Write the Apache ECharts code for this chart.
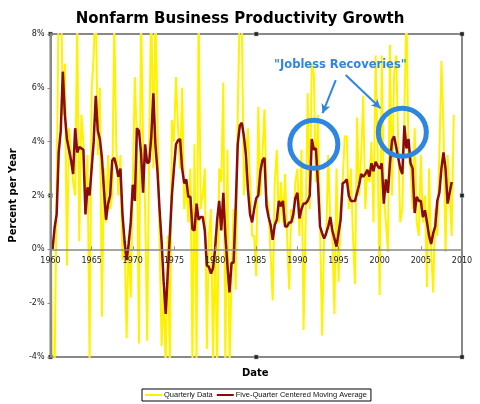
<!DOCTYPE html>
<html>
<head>
<meta charset="utf-8">
<script src="https://cdn.jsdelivr.net/npm/echarts@6/dist/echarts.min.js"></script>
<style>
  html, body { margin: 0; padding: 0; background: #fff; }
  #chart { width: 480px; height: 404px; }
</style>
</head>
<body>
<div id="chart"></div>
<script>
  // quarterly data starts 1960 Q1, moving average starts 1960 Q2
  let startYear = 1960;
  let quarterly = [
    2.5, -5.0, -4.5, 2.0,
    9.5, 10.5, 5.0, 6.9,
    -0.6, 4.5, 3.5, 2.5,
    2.0, 8.5, 0.3, 5.0,
    4.0, 1.5, 3.5, -4.2,
    5.9, 7.2, 9.5, 3.5,
    6.0, -2.5, 3.0, 1.0,
    3.5, 1.5, 2.0, 8.5,
    3.8, 2.0, 3.5, -0.4,
    0.5, -3.3, 0.5, -1.8,
    2.5, 6.4, 4.0, -3.5,
    9.0, 4.0, 1.5, -3.4,
    4.0, 9.5, 3.0, 9.0,
    5.0, 0.5, -3.6, -1.5,
    -4.5, 0.5, -4.5, 4.8,
    4.0, 6.4, 4.5, 3.0,
    6.0, 1.5, 2.5, 1.0,
    3.0, -4.2, 3.9, -4.2,
    9.0, 1.5, 2.0, 3.0,
    -3.7, 0.5, 1.5, -4.2,
    0.5, -4.5, 3.0, 2.5,
    6.2, -4.5, 3.7, -4.5,
    -1.0, 1.5, -1.5, 5.0,
    9.0, 8.5, 2.0, 3.5,
    4.5, 2.5, 0.5, 0.5,
    -1.0, 5.3, 2.0, 3.5,
    5.2, 2.0, 1.5, -0.2,
    -1.9, 2.5, 3.7, 1.0,
    2.5, 1.0, 2.8, 0.5,
    -1.5, 1.5, 1.0, 2.5,
    3.0, 0.5, 3.7, -3.0,
    1.0, 5.8, 1.5, 6.9,
    6.5, 2.5, 5.0, 1.0,
    -3.2, 0.5, 0.5, 3.5,
    1.0, 0.5, -2.4, 3.0,
    -1.2, 1.5, 2.5, 4.2,
    4.2, 1.5, 3.0, 0.5,
    -1.3, 4.9, 2.0, 3.5,
    5.7, 1.5, 3.0, 2.5,
    4.0, 1.0, 7.2, 3.5,
    -1.7, 7.2, 2.0, 1.0,
    -0.1, 7.6, 2.0, 6.5,
    7.2, 4.0, 1.0, 1.5,
    5.0, 9.0, 3.5, 3.0,
    1.5, 4.5, 1.0, 0.5,
    3.5, 1.0, 2.0, -1.4,
    3.0, 0.0, -1.6, 1.5,
    0.5, 3.5, 7.0, 4.5,
    -0.1, 3.5, 2.0, 0.5,
    5.0
  ];
  let movingAvg = [
    0.0, 0.8, 1.3,
    3.6, 4.4, 6.6, 5.0,
    4.1, 3.7, 3.3, 2.8,
    4.5, 3.6, 3.8, 3.75,
    3.7, 1.3, 2.3, 2.0,
    3.0, 4.0, 5.7, 4.4,
    4.1, 3.4, 2.2, 1.1,
    1.7, 2.0, 3.3, 3.4,
    3.1, 2.7, 3.0, 1.3,
    0.3, -0.4, 0.2, 1.0,
    2.4, 1.8, 4.5, 4.4,
    3.6, 2.1, 3.9, 3.2,
    3.25, 4.2, 5.8, 3.9,
    2.9, 1.5, 0.3, -1.2,
    -2.4, -0.9, 0.5, 2.0,
    3.0, 3.9, 4.05, 4.1,
    3.0, 2.45, 2.6, 1.95,
    1.95, 0.75, 0.7, 1.7,
    1.1, 1.2, 1.2, 0.7,
    -0.6, -0.65, -0.9, -0.7,
    0.0, 1.1, 1.8, 0.7,
    2.1, 0.5, -0.6, -1.6,
    -0.5, -0.5, 1.5, 3.9,
    4.6, 4.7, 4.2, 3.5,
    2.2, 1.3, 1.0, 1.5,
    1.9, 2.0, 2.9, 3.3,
    3.4, 1.6, 1.2, 0.9,
    0.35, 0.9, 1.1, 1.8,
    1.6, 1.8, 0.85, 0.85,
    1.0, 1.0, 1.3, 1.9,
    2.1, 1.15, 1.5, 1.7,
    1.7, 1.8, 2.0, 4.1,
    3.7, 3.75, 2.45, 0.85,
    0.6, 0.4, 0.6, 0.85,
    1.2, 0.7, 0.4, 0.1,
    0.6, 1.1, 2.45, 2.5,
    2.6, 2.0, 1.8, 1.8,
    1.8, 2.1, 2.4, 2.8,
    2.7, 2.8, 2.95, 2.7,
    3.2, 2.9, 3.25, 3.1,
    3.0, 3.2, 1.7, 2.6,
    2.1, 3.2, 4.05, 4.2,
    3.8, 3.4, 3.0, 2.8,
    4.6, 3.75, 4.1, 3.2,
    3.0, 1.35, 1.95, 1.8,
    1.8, 1.2, 1.45, 1.0,
    0.5, 0.2, 0.6, 0.85,
    1.8, 2.1, 3.0, 3.6,
    3.0, 1.7, 2.1, 2.5
  ];
  let yTicks = [-4, -2, 0, 2, 4, 6, 8];
  // annotation spots, in data units [year, percent]
  let circleSpots = [[1992.0, 3.9], [2002.75, 4.35]];
  let arrowSpots = [
    [[1994.66, 6.29], [1993.06, 5.06]],
    [[1995.87, 6.48], [2000.1, 5.24]]
  ];
  let frameHandles = [[1960, 8], [1985, 8], [2010, 8], [1960, 2], [2010, 2], [1960, -4], [1985, -4], [2010, -4]];

  let blue = '#2F86E0';
  let font = 'DejaVu Sans';
  let gridTop = 34, gridBottom = 47, plotH = 404 - gridTop - gridBottom;
  // distance from plot bottom up to the 0% line, so the year labels sit under it
  let zeroOffset = plotH * (0 - yTicks[0]) / (yTicks[yTicks.length - 1] - yTicks[0]);

  let chart = echarts.init(document.getElementById('chart'));
  chart.setOption({
    animation: false,
    backgroundColor: '#fff',
    title: [{
      text: 'Nonfarm Business Productivity Growth',
      left: 'center',
      top: 7,
      textStyle: { fontFamily: font, fontSize: 15, fontWeight: 'bold', color: '#000' }
    }, {
      text: 'Date',
      left: 237,
      top: 363,
      textStyle: { fontFamily: font, fontSize: 10, fontWeight: 'bold', color: '#000' }
    }],
    graphic: [{
      type: 'text',
      left: 274,
      top: 59,
      z: 20,
      style: {
        text: '"Jobless Recoveries"',
        fill: blue,
        font: 'bold 11.5px "DejaVu Sans"'
      }
    }],
    legend: {
      left: 142,
      top: 389,
      padding: [2, 4, 2, 3],
      itemGap: 4,
      itemWidth: 17,
      itemHeight: 2,
      icon: 'rect',
      borderColor: '#000',
      borderWidth: 1,
      textStyle: { fontFamily: 'Liberation Sans', fontSize: 7.5, color: '#111', padding: [0, 0, 0, -3] },
      data: ['Quarterly Data', 'Five-Quarter Centered Moving Average']
    },
    grid: {
      left: 48,
      right: 18,
      top: gridTop,
      bottom: gridBottom,
      show: true,
      borderColor: '#888',
      borderWidth: 2,
      backgroundColor: '#fff'
    },
    xAxis: [{
      type: 'value',
      min: 1960,
      max: 2010,
      interval: 5,
      z: 10,
      axisLine: { onZero: true, lineStyle: { color: '#888', width: 1.5 } },
      axisTick: { show: false },
      axisLabel: { show: false },
      splitLine: { show: false }
    }, {
      type: 'value',
      min: 1960,
      max: 2010,
      interval: 5,
      position: 'bottom',
      offset: -zeroOffset,
      z: 10,
      axisLine: { show: false, onZero: false },
      axisTick: { show: true, inside: true, length: 3, lineStyle: { color: '#888' } },
      axisLabel: {
        fontFamily: font, fontSize: 8, color: '#222', margin: 8,
        formatter: function (v) { return String(v); }
      },
      splitLine: { show: false }
    }],
    yAxis: {
      type: 'value',
      min: yTicks[0],
      max: yTicks[yTicks.length - 1],
      interval: 2,
      z: 10,
      name: 'Percent per Year',
      nameLocation: 'middle',
      nameGap: 28,
      nameTextStyle: { fontFamily: font, fontSize: 10, fontWeight: 'bold', color: '#000' },
      axisLine: { show: true, lineStyle: { color: '#888', width: 2 } },
      axisTick: { show: true, length: 3, lineStyle: { color: '#888' } },
      axisLabel: {
        fontFamily: font, fontSize: 8, color: '#222', margin: 6,
        formatter: '{value}%'
      },
      splitLine: { show: false }
    },
    series: [{
      name: 'Quarterly Data',
      type: 'line',
      data: quarterly.map(function (v, i) { return [startYear + i / 4, v]; }),
      showSymbol: false,
      symbol: 'none',
      clip: true,
      itemStyle: { color: '#FFF200' },
      lineStyle: { color: '#FFF200', width: 2 },
      z: 2,
      markPoint: {
        symbol: 'rect',
        symbolSize: 4,
        silent: true,
        itemStyle: { color: '#222', borderColor: '#aaa', borderWidth: 0.5 },
        label: { show: false },
        data: frameHandles.map(function (p) { return { coord: p }; })
      }
    }, {
      name: 'Five-Quarter Centered Moving Average',
      type: 'line',
      data: movingAvg.map(function (v, i) { return [startYear + (i + 1) / 4, v]; }),
      showSymbol: false,
      symbol: 'none',
      clip: true,
      itemStyle: { color: '#8B0A0A' },
      lineStyle: { color: '#8B0A0A', width: 2.5 },
      z: 3,
      markPoint: {
        symbol: 'circle',
        symbolSize: 48,
        silent: true,
        itemStyle: { color: 'rgba(0,0,0,0)', borderColor: blue, borderWidth: 5 },
        label: { show: false },
        data: circleSpots.map(function (p) { return { coord: p }; })
      },
      markLine: {
        silent: true,
        symbol: ['none', 'arrow'],
        symbolSize: [7, 9],
        label: { show: false },
        lineStyle: { color: blue, width: 2, type: 'solid' },
        data: arrowSpots.map(function (a) { return [{ coord: a[0] }, { coord: a[1] }]; })
      }
    }]
  });
</script>
</body>
</html>
